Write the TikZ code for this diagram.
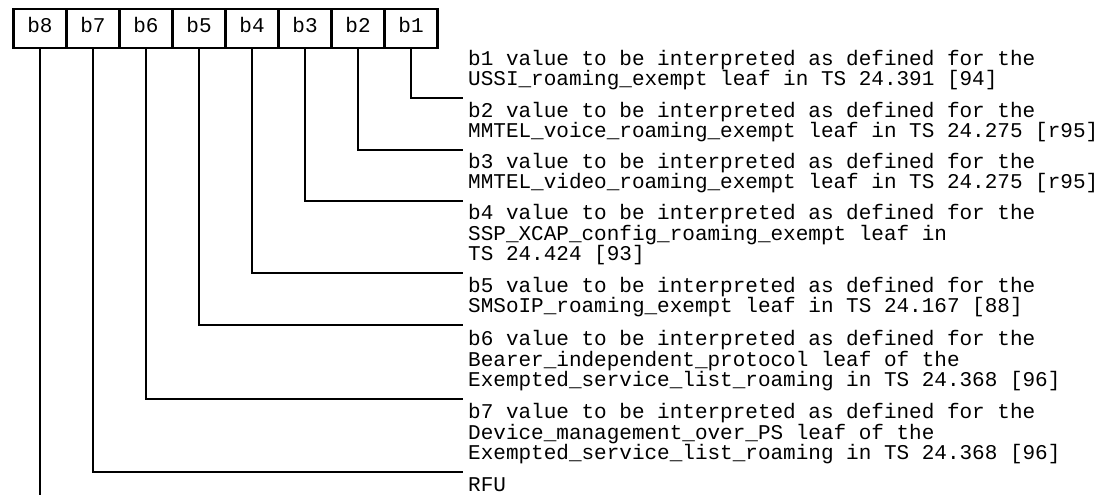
\documentclass[tikz,border=0pt]{standalone}
\usepackage{fontspec}
\setmonofont{Liberation Mono}
\usetikzlibrary{positioning}
\newcommand\bitfont{\ttfamily\fontsize{21}{20.5}\selectfont\lineskiplimit=-50pt\relax}

\begin{document}
\begin{tikzpicture}[x=1pt,y=-1pt,
  bitbox/.style={draw,line width=2.2pt,outer sep=0pt,inner sep=0pt,
    minimum width=53pt,minimum height=39pt,text depth=7pt,font=\bitfont},
  desc/.style={anchor=south west,align=left,inner xsep=5pt,inner ysep=6pt,font=\bitfont},
  wire/.style={line width=2.2pt}]
\useasboundingbox (0,0) rectangle (1115,495);

\node[bitbox] (b8) at (40,28.5) {b8};
\node[bitbox,right=0pt of b8] (b7) {b7};
\node[bitbox,right=0pt of b7] (b6) {b6};
\node[bitbox,right=0pt of b6] (b5) {b5};
\node[bitbox,right=0pt of b5] (b4) {b4};
\node[bitbox,right=0pt of b4] (b3) {b3};
\node[bitbox,right=0pt of b3] (b2) {b2};
\node[bitbox,right=0pt of b2] (b1) {b1};

\node[desc] (d1) at (463,98) {b1 value to be interpreted as defined for the\\
  USSI\_roaming\_exempt leaf in TS 24.391 [94]\strut};
\node[desc] (d2) at (463,150) {b2 value to be interpreted as defined for the\\
  MMTEL\_voice\_roaming\_exempt leaf in TS 24.275 [r95]\strut};
\node[desc] (d3) at (463,201) {b3 value to be interpreted as defined for the\\
  MMTEL\_video\_roaming\_exempt leaf in TS 24.275 [r95]\strut};
\node[desc] (d4) at (463,273) {b4 value to be interpreted as defined for the\\
  SSP\_XCAP\_config\_roaming\_exempt leaf in\\
  TS 24.424 [93]\strut};
\node[desc] (d5) at (463,325) {b5 value to be interpreted as defined for the\\
  SMSoIP\_roaming\_exempt leaf in TS 24.167 [88]\strut};
\node[desc] (d6) at (463,399) {b6 value to be interpreted as defined for the\\
  Bearer\_independent\_protocol leaf of the\\
  Exempted\_service\_list\_roaming in TS 24.368 [96]\strut};
\node[desc] (d7) at (463,472) {b7 value to be interpreted as defined for the\\
  Device\_management\_over\_PS leaf of the\\
  Exempted\_service\_list\_roaming in TS 24.368 [96]\strut};
\node[desc] (rfu) at (463,504) {RFU\strut};

\coordinate (b8end) at (b8.south |- 0,495);

\draw[wire] (b1.south) |- (d1.south west);
\draw[wire] (b2.south) |- (d2.south west);
\draw[wire] (b3.south) |- (d3.south west);
\draw[wire] (b4.south) |- (d4.south west);
\draw[wire] (b5.south) |- (d5.south west);
\draw[wire] (b6.south) |- (d6.south west);
\draw[wire] (b7.south) |- (d7.south west);
\draw[wire] (b8.south) -- (b8end);

\end{tikzpicture}
\end{document}
